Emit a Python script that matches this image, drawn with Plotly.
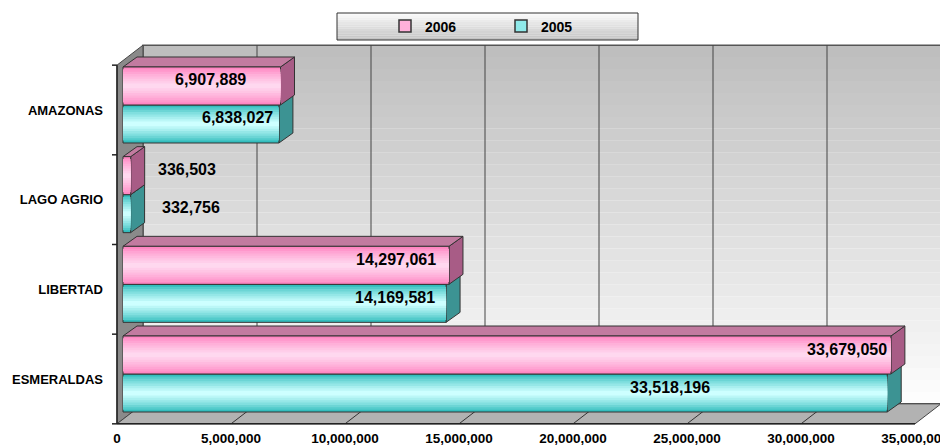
import plotly.graph_objects as go

CATEGORIES = ["ESMERALDAS", "LIBERTAD", "LAGO AGRIO", "AMAZONAS"]
VALUES_2005 = [33518196, 14169581, 332756, 6838027]
VALUES_2006 = [33679050, 14297061, 336503, 6907889]
X_TICKS = [0, 5000000, 10000000, 15000000, 20000000, 25000000, 30000000, 35000000]

FONT = "Liberation Sans, Arial, sans-serif"

# the page body has an 8px margin, so all screen positions below are shifted by it
PAGE_PAD = 8
W, H = 948 - PAGE_PAD, 446 - PAGE_PAD
PLOT_L, PLOT_R = 110, 940
PLOT_T, PLOT_B = 40, 428
M_L, M_T = PLOT_L - PAGE_PAD, PLOT_T - PAGE_PAD
M_R, M_B = W - (PLOT_R - PAGE_PAD), H - (PLOT_B - PAGE_PAD)

# pixel scale of the bar plane
K_X = 22.8 / 1e6      # px per unit on x
K_Y = 89.67           # px per category
X0_PX = 123           # screen px of value 0
Y0_PX = 374           # screen px of first category centre

X_RANGE = [(PLOT_L - X0_PX) / K_X, (PLOT_R - X0_PX) / K_X]
Y_RANGE = [(Y0_PX - PLOT_B) / K_Y, (Y0_PX - PLOT_T) / K_Y]


def dx(px):
    return px / K_X


def dy(px):
    return px / K_Y


def paper_x(px):
    return (px - PLOT_L) / (PLOT_R - PLOT_L)


def paper_y(py):
    return (PLOT_B - py) / (PLOT_B - PLOT_T)


def mix(c1, c2, t):
    a = [int(c1[i:i + 2], 16) for i in (1, 3, 5)]
    b = [int(c2[i:i + 2], 16) for i in (1, 3, 5)]
    return "rgb(%d,%d,%d)" % tuple(round(a[i] + (b[i] - a[i]) * t) for i in range(3))


def poly(pts):
    return "M " + " L ".join(f"{x},{y}" for x, y in pts) + " Z"


GROUP_W = 0.8476
BAR_W = GROUP_W / 2
N_CAT = len(CATEGORIES)
Y_LO, Y_HI = -0.5, N_CAT - 0.5
X_MAX = X_TICKS[-1]

# plane offsets relative to the bar plane
FX, FY = dx(-6), dy(-5)
BX, BY = dx(20), dy(15)
DEPTH_X, DEPTH_Y = dx(14), dy(10)

SERIES = [
    dict(name="2005", values=VALUES_2005, offset=-BAR_W, edge="#33BDBD", centre="#CDFFFF",
         side="#3C9393", top="#5FB5B5", legend="#8FEAEA"),
    dict(name="2006", values=VALUES_2006, offset=0.0, edge="#FF86C2", centre="#FFD8EF",
         side="#A85C86", top="#C27BA0", legend="#FFB0DA"),
]

fig = go.Figure()
ys = list(range(N_CAT))
N_LAYERS = 8
for s in SERIES:
    for j in range(N_LAYERS):
        frac = 1 - j / N_LAYERS
        width = BAR_W * frac
        off = s["offset"] + (BAR_W - width) / 2
        color = mix(s["edge"], s["centre"], (j / (N_LAYERS - 1)) ** 0.8)
        fig.add_trace(go.Bar(
            x=s["values"], y=ys, orientation="h", offset=off, width=width,
            marker=dict(color=color, line=dict(color="#333333", width=1 if j == 0 else 0)),
            name=s["name"], legendgroup=s["name"], showlegend=False,
            hoverinfo="skip" if j else "x+name",
        ))
    # legend-only entry
    fig.add_trace(go.Bar(
        x=[None], y=[None], orientation="h", name=s["name"], legendgroup=s["name"],
        marker=dict(color=s["legend"], line=dict(color="#333333", width=1.5)),
    ))

shapes = []

# back wall with vertical gradient
wall_x0, wall_x1 = BX, X_MAX + BX
wall_y0, wall_y1 = Y_LO + BY, Y_HI + BY
N_STRIPES = 30
for k in range(N_STRIPES):
    ya = wall_y1 - (wall_y1 - wall_y0) * k / N_STRIPES
    yb = wall_y1 - (wall_y1 - wall_y0) * (k + 1) / N_STRIPES
    shapes.append(dict(type="rect", xref="x", yref="y", x0=wall_x0, x1=wall_x1, y0=yb, y1=ya,
                       fillcolor=mix("#BEBEBE", "#FDFDFD", k / (N_STRIPES - 1)),
                       line=dict(width=0), layer="below"))
shapes.append(dict(type="rect", xref="x", yref="y", x0=wall_x0, x1=wall_x1, y0=wall_y0, y1=wall_y1,
                   line=dict(color="#555555", width=1.5), layer="below"))
for v in X_TICKS[1:-1]:
    shapes.append(dict(type="line", xref="x", yref="y", x0=v + BX, x1=v + BX, y0=wall_y0, y1=wall_y1,
                       line=dict(color="#444444", width=1), layer="below"))

# left wall
shapes.append(dict(type="path", xref="x", yref="y", layer="below",
                   path=poly([(FX, Y_HI + FY), (BX, Y_HI + BY), (BX, Y_LO + BY), (FX, Y_LO + FY)]),
                   fillcolor="#8A8A8A", line=dict(color="#444444", width=1)))

# floor
shapes.append(dict(type="path", xref="x", yref="y", layer="below",
                   path=poly([(FX, Y_LO + FY), (X_MAX + FX, Y_LO + FY), (X_MAX + BX, Y_LO + BY), (BX, Y_LO + BY)]),
                   fillcolor="#B2B2B2", line=dict(color="#444444", width=1)))
for v in X_TICKS[1:-1]:
    shapes.append(dict(type="line", xref="x", yref="y", x0=v + FX, x1=v + BX, y0=Y_LO + FY, y1=Y_LO + BY,
                       line=dict(color="#333333", width=1), layer="below"))
shapes.append(dict(type="line", xref="x", yref="y", x0=FX, x1=X_MAX + FX, y0=Y_LO + FY, y1=Y_LO + FY,
                   line=dict(color="#222222", width=1.5), layer="below"))
shapes.append(dict(type="line", xref="x", yref="y", x0=FX, x1=FX, y0=Y_LO + FY, y1=Y_HI + FY,
                   line=dict(color="#222222", width=1.5), layer="below"))
for k in range(N_CAT + 1):
    shapes.append(dict(type="line", xref="x", yref="y", xsizemode="pixel", xanchor=FX, x0=-5, x1=0,
                       y0=Y_LO + k + FY, y1=Y_LO + k + FY, line=dict(color="#222222", width=1.5)))

# 3d faces of the bars
for i in range(N_CAT):
    for s in SERIES:
        v = s["values"][i]
        b = i + s["offset"]
        t = b + BAR_W
        shapes.append(dict(type="path", xref="x", yref="y", layer="below",
                           path=poly([(v, b), (v + DEPTH_X, b + DEPTH_Y), (v + DEPTH_X, t + DEPTH_Y), (v, t)]),
                           fillcolor=s["side"], line=dict(color="#333333", width=1)))
        shapes.append(dict(type="path", xref="x", yref="y", layer="below",
                           path=poly([(0, t), (v, t), (v + DEPTH_X, t + DEPTH_Y), (DEPTH_X, t + DEPTH_Y)]),
                           fillcolor=s["top"], line=dict(color="#333333", width=1)))

# legend box
N_LEG = 12
for k in range(N_LEG):
    shapes.append(dict(type="rect", xref="paper", yref="paper",
                       x0=paper_x(337), x1=paper_x(638),
                       y0=paper_y(13 + 27 * (k + 1) / N_LEG), y1=paper_y(13 + 27 * k / N_LEG),
                       fillcolor=mix("#FAFAFA", "#C4C4C4", k / (N_LEG - 1)), line=dict(width=0)))
shapes.append(dict(type="rect", xref="paper", yref="paper", x0=paper_x(337), x1=paper_x(638),
                   y0=paper_y(40), y1=paper_y(13), line=dict(color="#333333", width=1)))

# data labels: (xanchor, xshift) per series & category
LABEL_STYLE = {
    "2005": [("right", -175), ("right", -9), ("left", 29), ("right", -4)],
    "2006": [("right", -2), ("right", -11), ("left", 25), ("right", -33)],
}
annotations = []
for s in SERIES:
    for i, v in enumerate(s["values"]):
        anchor, shift = LABEL_STYLE[s["name"]][i]
        annotations.append(dict(x=v, y=i + s["offset"] + BAR_W / 2, xref="x", yref="y",
                                text=f"{v:,}", showarrow=False, xanchor=anchor, xshift=shift, yshift=6,
                                font=dict(family=FONT, size=16, color="#000000", weight="bold")))

fig.update_layout(
    width=W, height=H,
    margin=dict(l=M_L, r=M_R, t=M_T, b=M_B, autoexpand=False),
    paper_bgcolor="white", plot_bgcolor="rgba(0,0,0,0)",
    barmode="overlay",
    font=dict(family=FONT, size=13, color="#000000", weight="bold"),
    xaxis=dict(range=X_RANGE, tickvals=X_TICKS, tickformat=",", showgrid=False, zeroline=False,
               showline=False, ticks="", ticklabelshift=-6, automargin=False,
               ticklabeloverflow="allow", tickfont=dict(size=13.5, weight="bold")),
    yaxis=dict(range=Y_RANGE, tickvals=ys, ticktext=CATEGORIES, showgrid=False, zeroline=False,
               showline=False, ticks="", ticklabelshift=5, ticklabelstandoff=6, automargin=False,
               tickfont=dict(size=13, weight="bold")),
    legend=dict(orientation="h", x=paper_x(385), xanchor="left", y=paper_y(26.5), yanchor="middle",
                bgcolor="rgba(0,0,0,0)", traceorder="reversed", entrywidth=71,
                font=dict(size=14, weight="bold")),
    shapes=shapes,
    annotations=annotations,
)

fig.write_html("out.html")
